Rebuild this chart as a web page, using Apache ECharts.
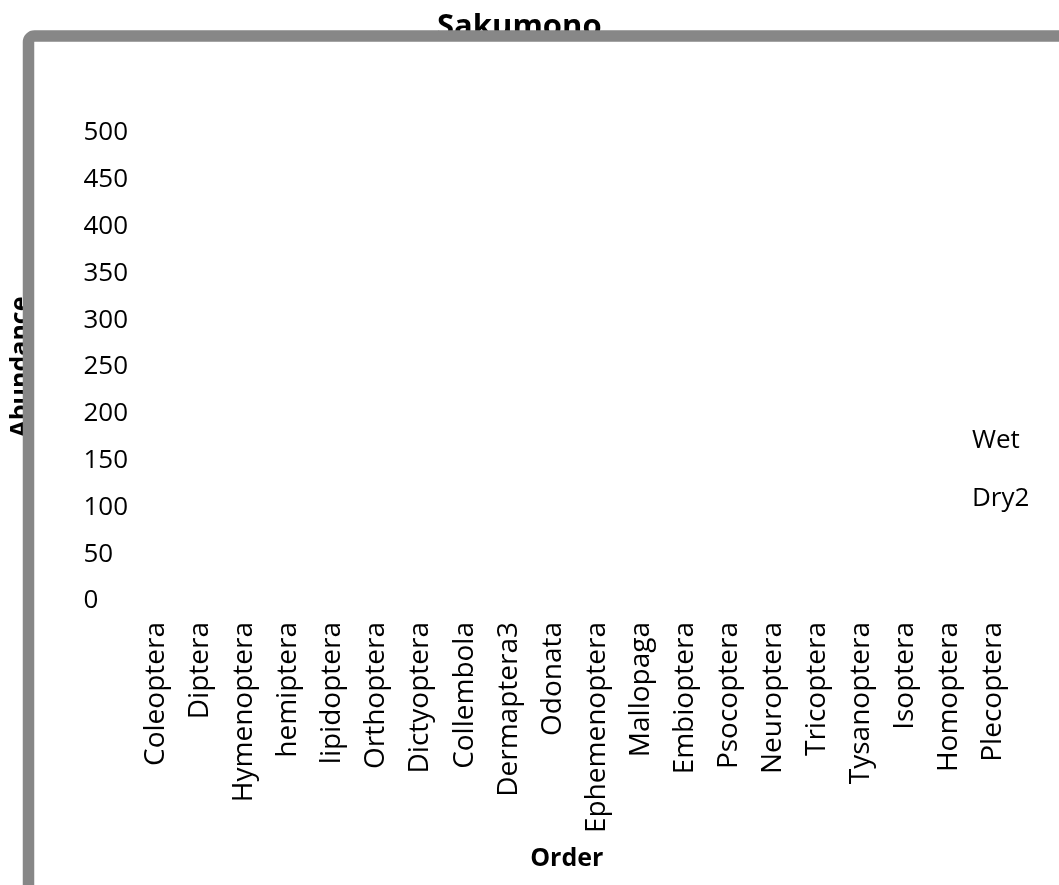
<!DOCTYPE html>
<html><head><meta charset="utf-8">
<script src="https://cdn.jsdelivr.net/npm/echarts@6/dist/echarts.min.js"></script>
<style>html,body{margin:0;padding:0;background:#fff}#c{width:1059px;height:885px}</style>
</head><body><div id="c"></div>
<script>
const categories = ["Coleoptera","Diptera","Hymenoptera","hemiptera","lipidoptera","Orthoptera","Dictyoptera","Collembola","Dermaptera3","Odonata","Ephemenoptera","Mallopaga","Embioptera","Psocoptera","Neuroptera","Tricoptera","Tysanoptera","Isoptera","Homoptera","Plecoptera"];
const wetValues  = [0,0,0,0,0,0,0,0,0,0,0,0,0,0,0,0,0,0,0,0];
const dry2Values = [0,0,0,0,0,0,0,0,0,0,0,0,0,0,0,0,0,0,0,0];
const seriesNames = ["Wet","Dry2"];
const yTicks = {min:0, max:500, interval:50};

const F = "'Open Sans', sans-serif";
const chart = echarts.init(document.getElementById('c'), null, {renderer:'canvas'});
chart.setOption({
  animation:false,
  backgroundColor:'#fff',
  title:{text:'Sakumono', left:432, top:7,
    textStyle:{fontFamily:F, fontWeight:'bold', fontSize:31, color:'#000'}},
  legend:{orient:'vertical', left:962, top:423, itemWidth:0, itemHeight:0, itemGap:32, icon:'none',
    data:seriesNames, textStyle:{fontFamily:F, fontSize:26, color:'#000'}},
  grid:{left:113.5, right:43.5, top:133, bottom:284},
  xAxis:{type:'category', data:categories, name:'Order', nameLocation:'middle', nameGap:245,
    nameTextStyle:{fontFamily:F, fontWeight:'bold', fontSize:25, color:'#000', padding:[0,16,0,0]},
    axisLine:{show:false}, axisTick:{show:false}, splitLine:{show:false},
    axisLabel:{rotate:90, interval:0, margin:21, fontFamily:F, fontSize:28, color:'#000'}},
  yAxis:{type:'value', min:yTicks.min, max:yTicks.max, interval:yTicks.interval,
    name:'Abundance', nameLocation:'middle', nameGap:101,
    nameTextStyle:{fontFamily:F, fontWeight:'bold', fontSize:25, color:'#000'},
    axisLine:{show:false}, axisTick:{show:false}, splitLine:{show:false},
    axisLabel:{align:'left', margin:50.5, fontFamily:F, fontSize:26, color:'#000'}},
  series:[
    {name:seriesNames[0], type:'bar', data:wetValues, itemStyle:{color:'rgba(0,0,0,0)'}},
    {name:seriesNames[1], type:'bar', data:dry2Values, itemStyle:{color:'rgba(0,0,0,0)'}}
  ],
  graphic:[{type:'rect', z:1000, silent:true,
    shape:{x:28.5, y:36, width:1200, height:1000, r:6},
    style:{fill:'none', stroke:'#878787', lineWidth:11.5}}]
});
</script></body></html>
